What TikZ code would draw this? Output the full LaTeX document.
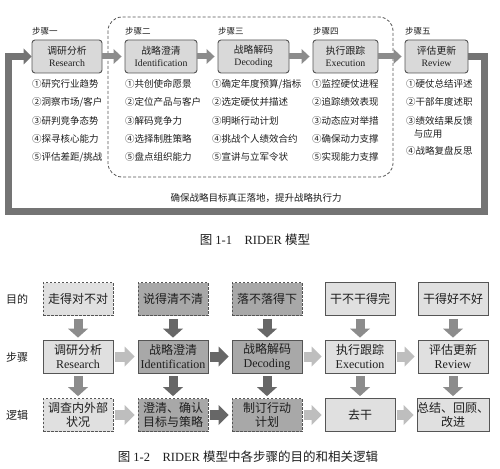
\documentclass[tikz,border=0pt]{standalone}
\usepackage{fontspec}
\setmainfont{Liberation Serif}
\newfontfamily\cjk{Noto Sans CJK SC}
\usetikzlibrary{arrows.meta}
\definecolor{boxfillA}{HTML}{D9D9D9}
\definecolor{boxdraw}{HTML}{555555}
\definecolor{lightfill}{HTML}{E0E0E0}
\definecolor{midfill}{HTML}{A8A8A8}
\definecolor{arrlight}{HTML}{BEBEBE}
\definecolor{arrmid}{HTML}{8C8C8C}
\definecolor{arrdark}{HTML}{676767}
\definecolor{loopcol}{HTML}{747474}
\definecolor{txt}{HTML}{1E1E1E}
\tikzset{
  rbox/.style={draw=boxdraw, line width=0.9pt, fill=boxfillA, rounded corners=3pt,
    minimum height=33pt, inner sep=0pt, align=center, text=txt,
    font=\fontsize{9.8}{11.5}\selectfont},
  steplbl/.style={anchor=west, inner sep=0pt, text=txt, font=\cjk\fontsize{8.5}{10}\selectfont},
  itemtxt/.style={anchor=west, inner sep=0pt, text=txt, align=left, font=\cjk\fontsize{9.5}{13}\selectfont},
  smallarr/.style={draw=arrmid, line width=6pt, -{Triangle[length=8pt,width=15pt,line width=0pt]}, shorten >=3pt},
  looparr/.style={draw=loopcol, line width=7pt, line join=miter, -{Triangle[length=8pt,width=16pt,line width=0pt]}},
  fbox/.style={minimum width=70pt, minimum height=33pt, inner sep=0pt, align=center, text=txt,
    font=\fontsize{12}{14}\selectfont, draw=boxdraw, line width=0.8pt},
  solidb/.style={fbox},
  dashb/.style={fbox, dash pattern=on 2.5pt off 1.5pt},
  lf/.style={fill=lightfill},
  mf/.style={fill=midfill},
  rowlbl/.style={inner sep=0pt, text=txt, font=\cjk\fontsize{11}{13}\selectfont},
  harr/.style={line width=10pt, -{Triangle[length=10pt,width=20pt,line width=0pt]}, shorten <=2pt, shorten >=3pt},
  varr/.style={line width=9pt, -{Triangle[length=9pt,width=20pt,line width=0pt]}, shorten <=3pt, shorten >=2pt},
  captxt/.style={inner sep=0pt, text=txt, font=\fontsize{12.5}{15}\selectfont},
  midtxt/.style={inner sep=0pt, text=txt, font=\cjk\fontsize{9.5}{12}\selectfont}
}
\begin{document}
\begin{tikzpicture}[x=1pt,y=-1pt]
\useasboundingbox[fill=white] (0,0) rectangle (500,468);
% ---------- Figure 1-1 ----------
\draw[draw=boxdraw, line width=0.8pt, dash pattern=on 3pt off 2pt, rounded corners=14pt] (108,17) rectangle (393,177);
\node[steplbl] (st1) at (32,31) {步骤一};
\node[steplbl] (st2) at (125,31) {步骤二};
\node[steplbl] (st3) at (218,31) {步骤三};
\node[steplbl] (st4) at (313,31) {步骤四};
\node[steplbl] (st5) at (405,31) {步骤五};
\node[rbox, minimum width=70pt] (r1) at (67,56.5) {{\cjk 调研分析}\\Research};
\node[rbox, minimum width=72pt] (r2) at (161,56.5) {{\cjk 战略澄清}\\Identification};
\node[rbox, minimum width=71pt] (r3) at (253.5,56.5) {{\cjk 战略解码}\\Decoding};
\node[rbox, minimum width=65pt] (r4) at (345.5,56.5) {{\cjk 执行跟踪}\\Execution};
\node[rbox, minimum width=63pt] (r5) at (436.5,56.5) {{\cjk 评估更新}\\Review};
\draw[smallarr] (r1) -- (r2);
\draw[smallarr] (r2) -- (r3);
\draw[smallarr] (r3) -- (r4);
\draw[smallarr] (r4) -- (r5);
\coordinate (lr) at (484,211);
\coordinate (ll) at (8,211);
\draw[looparr] (r5.east) -| (lr) -- (ll) |- (r1.west);
% lists
\node[itemtxt] (a1) at (32,84) {①研究行业趋势};
\node[itemtxt] (a2) at (32,102) {②洞察市场/客户};
\node[itemtxt] (a3) at (32,121) {③研判竞争态势};
\node[itemtxt] (a4) at (32,139) {④探寻核心能力};
\node[itemtxt] (a5) at (32,157) {⑤评估差距/挑战};
\node[itemtxt] (b1) at (125,84) {①共创使命愿景};
\node[itemtxt] (b2) at (125,102) {②定位产品与客户};
\node[itemtxt] (b3) at (125,121) {③解码竞争力};
\node[itemtxt] (b4) at (125,139) {④选择制胜策略};
\node[itemtxt] (b5) at (125,157) {⑤盘点组织能力};
\node[itemtxt] (c1) at (212,84) {①确定年度预算/指标};
\node[itemtxt] (c2) at (212,102) {②选定硬仗并描述};
\node[itemtxt] (c3) at (212,121) {③明晰行动计划};
\node[itemtxt] (c4) at (212,139) {④挑战个人绩效合约};
\node[itemtxt] (c5) at (212,157) {⑤宣讲与立军令状};
\node[itemtxt] (d1) at (312,84) {①监控硬仗进程};
\node[itemtxt] (d2) at (312,102) {②追踪绩效表现};
\node[itemtxt] (d3) at (312,121) {③动态应对举措};
\node[itemtxt] (d4) at (312,139) {④确保动力支撑};
\node[itemtxt] (d5) at (312,157) {⑤实现能力支撑};
\node[itemtxt] (e1) at (406,84) {①硬仗总结评述};
\node[itemtxt] (e2) at (406,102) {②干部年度述职};
\node[itemtxt] (e3) at (406,127) {③绩效结果反馈\\\hspace{0.8em}与应用};
\node[itemtxt] (e4) at (406,151) {④战略复盘反思};
\node[midtxt] (goal) at (256,198) {确保战略目标真正落地，提升战略执行力};
\node[captxt] (cap1) at (255,240) {{\cjk 图} 1-1\quad RIDER {\cjk 模型}};
% ---------- Figure 1-2 ----------
\node[rowlbl] (lab1) at (17,299) {目的};
\node[rowlbl] (lab2) at (17,357) {步骤};
\node[rowlbl] (lab3) at (17,415) {逻辑};
\node[dashb, lf] (p1) at (78,299) {\cjk 走得对不对};
\node[dashb, mf] (p2) at (173,299) {\cjk 说得清不清};
\node[dashb, mf] (p3) at (267,299) {\cjk 落不落得下};
\node[solidb, lf] (p4) at (360,299) {\cjk 干不干得完};
\node[solidb, lf] (p5) at (453,299) {\cjk 干得好不好};
\node[solidb, lf] (s1) at (78,356.5) {{\cjk 调研分析}\\Research};
\node[solidb, mf] (s2) at (173,356.5) {{\cjk 战略澄清}\\Identification};
\node[solidb, mf] (s3) at (267,356.5) {{\cjk 战略解码}\\Decoding};
\node[solidb, lf] (s4) at (360,356.5) {{\cjk 执行跟踪}\\Execution};
\node[solidb, lf] (s5) at (453,356.5) {{\cjk 评估更新}\\Review};
\node[dashb, lf] (l1) at (78,415) {\cjk 调查内外部\\\cjk 状况};
\node[dashb, mf] (l2) at (173,415) {\cjk 澄清、确认\\\cjk 目标与策略};
\node[dashb, mf] (l3) at (267,415) {\cjk 制订行动\\\cjk 计划};
\node[solidb, lf] (l4) at (360,415) {\cjk 去干};
\node[solidb, lf] (l5) at (453,415) {\cjk 总结、回顾、\\\cjk 改进};
% vertical arrows
\draw[varr, draw=arrmid] (p1) -- (s1);
\draw[varr, draw=arrdark] (p2) -- (s2);
\draw[varr, draw=arrdark] (p3) -- (s3);
\draw[varr, draw=arrmid] (p4) -- (s4);
\draw[varr, draw=arrmid] (p5) -- (s5);
\draw[varr, draw=arrmid] (s1) -- (l1);
\draw[varr, draw=arrdark] (s2) -- (l2);
\draw[varr, draw=arrdark] (s3) -- (l3);
\draw[varr, draw=arrmid] (s4) -- (l4);
\draw[varr, draw=arrmid] (s5) -- (l5);
% horizontal arrows
\draw[harr, draw=arrlight] (s1) -- (s2);
\draw[harr, draw=arrdark] (s2) -- (s3);
\draw[harr, draw=arrlight] (s3) -- (s4);
\draw[harr, draw=arrlight] (s4) -- (s5);
\draw[harr, draw=arrlight] (l1) -- (l2);
\draw[harr, draw=arrdark] (l2) -- (l3);
\draw[harr, draw=arrlight] (l3) -- (l4);
\draw[harr, draw=arrlight] (l4) -- (l5);
\node[captxt] (cap2) at (248,457) {{\cjk 图} 1-2\quad RIDER {\cjk 模型中各步骤的目的和相关逻辑}};
\end{tikzpicture}
\end{document}
